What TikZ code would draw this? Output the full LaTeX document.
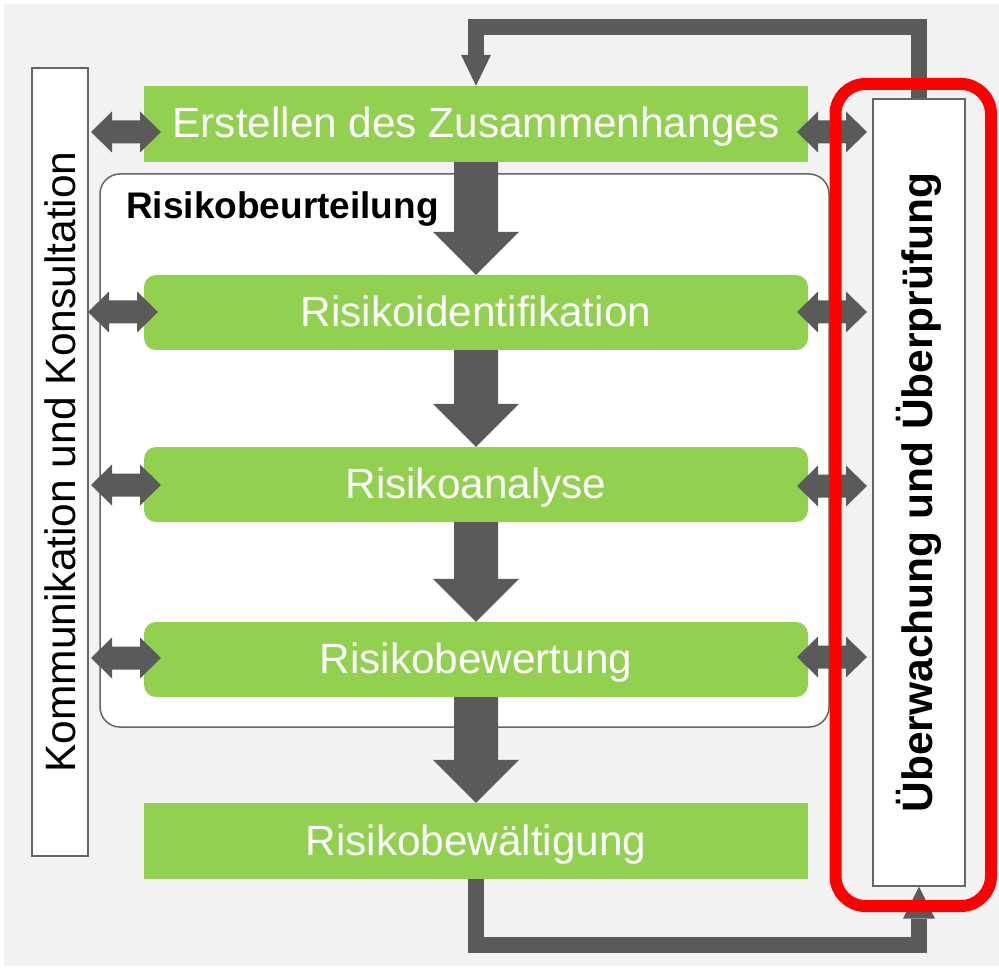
\documentclass[tikz,border=0pt]{standalone}
\usepackage{fontspec}
\setmainfont{Liberation Sans}
\usetikzlibrary{calc}
\definecolor{bggray}{HTML}{F2F2F2}
\definecolor{leaf}{HTML}{92D050}
\definecolor{arrowgray}{HTML}{5A5A5A}
\definecolor{framegray}{HTML}{666666}
\definecolor{alertred}{HTML}{FF0000}

% horizontal two-way block arrow, starting at its left tip
\newcommand\twowayarrow[1]{%
  \fill[arrowgray] (#1) -- ++(21,-20.5) -- ++(0,9) -- ++(28,0) -- ++(0,-9)
    -- ++(21,20.5) -- ++(-21,20.5) -- ++(0,-9) -- ++(-28,0) -- ++(0,9) -- cycle;}

% thick downward block arrow from one stage to the next
\newcommand\blockdown[2]{%
  \fill[arrowgray] ([xshift=-22pt]#1.south) -- ([xshift=-22pt,yshift=43pt]#2.north)
    -- ([xshift=-43pt,yshift=43pt]#2.north) -- (#2.north)
    -- ([xshift=43pt,yshift=43pt]#2.north) -- ([xshift=22pt,yshift=43pt]#2.north)
    -- ([xshift=22pt]#1.south) -- cycle;}

\begin{document}
\begin{tikzpicture}[x=1pt,y=-1pt,
  stage/.style={fill=leaf, text=white, font=\fontsize{42.3}{50}\selectfont,
    minimum width=664pt, inner sep=0pt, text height=31pt, text depth=3pt},
  roundstage/.style={stage, rounded corners=12pt, minimum height=75pt},
  flatstage/.style={stage, minimum height=76pt},
  sidebox/.style={draw=framegray, line width=1.6pt, fill=white, inner sep=0pt},
  sidetext/.style={rotate=90, font=\fontsize{42.5}{50}\selectfont, text=black},
  feedback/.style={draw=arrowgray, line width=16pt, line join=miter, line cap=butt},
]
\useasboundingbox (0,0) rectangle (999,968);
\fill[bggray] (4,4) rectangle (999,966);

% risk assessment frame
\node[draw=framegray, line width=1.5pt, fill=white, rounded corners=20pt,
  minimum width=729pt, minimum height=553pt, inner sep=0pt] (beurt) at (464.5,450.5) {};
\node[anchor=base west, font=\bfseries\fontsize{37}{42}\selectfont, inner sep=0pt]
  (beurtlabel) at (126,219) {Risikobeurteilung};

% side columns
\node[sidebox, minimum width=56pt, minimum height=788pt] (kom) at (60,462) {};
\node[sidetext] (komtext) at (kom) {Kommunikation und Konsultation};
\node[sidebox, line width=1.3pt, minimum width=92pt, minimum height=787pt] (ueb) at (919,492.5) {};
\node[sidetext, font=\bfseries\fontsize{42.5}{50}\selectfont] (uebtext) at (ueb) {Überwachung und Überprüfung};

% process stages
\node[flatstage] (erst) at (476,124) {Erstellen des Zusammenhanges};
\node[roundstage] (ident) at (476,312.5) {Risikoidentifikation};
\node[roundstage] (analyse) at (476,484.5) {Risikoanalyse};
\node[roundstage] (bewert) at (476,659.5) {Risikobewertung};
\node[flatstage] (bewaelt) at (476,841) {Risikobewältigung};

% feedback loops
\draw[feedback] (ueb.north) -- ++(0,-71) -| ([yshift=31pt]erst.north);
\fill[arrowgray] ([xshift=-15pt,yshift=31pt]erst.north) -- (erst.north)
  -- ([xshift=15pt,yshift=31pt]erst.north) -- cycle;
\draw[feedback] (bewaelt.south) -- ++(0,66) -| ([yshift=-32pt]ueb.south);
\fill[arrowgray] ([xshift=-16pt,yshift=-32pt]ueb.south) -- (ueb.south)
  -- ([xshift=16pt,yshift=-32pt]ueb.south) -- cycle;

% main flow
\blockdown{erst}{ident}
\blockdown{ident}{analyse}
\blockdown{analyse}{bewert}
\blockdown{bewert}{bewaelt}

% exchange with the side columns
\coordinate (kl1) at (91,132);
\coordinate (kl2) at (88,312);
\coordinate (kl3) at (91,485);
\coordinate (kl4) at (91,658);
\coordinate (kr1) at (797,132);
\coordinate (kr2) at (797,312);
\coordinate (kr3) at (797,486);
\coordinate (kr4) at (797,657);
\twowayarrow{kl1}
\twowayarrow{kl2}
\twowayarrow{kl3}
\twowayarrow{kl4}
\twowayarrow{kr1}
\twowayarrow{kr2}
\twowayarrow{kr3}
\twowayarrow{kr4}

% highlight around the monitoring column
\node[draw=alertred, line width=12pt, rounded corners=30pt,
  minimum width=155.5pt, minimum height=822pt, inner sep=0pt] (highlight) at (913.25,495) {};
\end{tikzpicture}
\end{document}
